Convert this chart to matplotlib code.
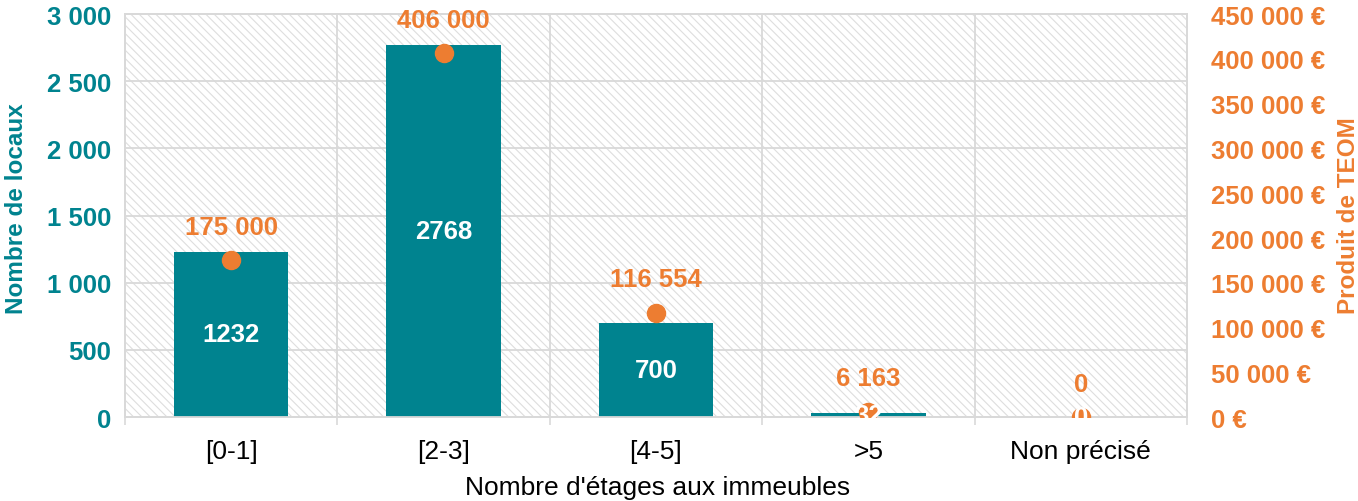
import matplotlib.pyplot as plt
from matplotlib.ticker import FuncFormatter, FixedLocator

plt.rcParams['font.family'] = ['Liberation Sans', 'DejaVu Sans']
plt.rcParams['hatch.linewidth'] = 0.8

# données
categories = ['[0-1]', '[2-3]', '[4-5]', '>5', 'Non précisé']
nb_locaux = [1232, 2768, 700, 32, 0]
produit_teom = [175000, 406000, 116554, 6163, 0]

teal = '#00838F'
orange = '#ED7D31'
grid_col = '#d9d9d9'
fs = 18.5


def sep(v):
    return f"{int(v):,}".replace(',', ' ')


fig = plt.figure(figsize=(13.58, 5.02), dpi=100)
ax = fig.add_axes([0.092, 0.167, 0.782, 0.803])
ax2 = ax.twinx()

# fond hachuré
ax.patch.set_facecolor('white')
ax.patch.set_edgecolor('#dedede')
ax.patch.set_hatch('\\\\\\\\')

x = list(range(len(categories)))
bars = ax.bar(x, nb_locaux, width=0.54, color=teal, zorder=3)

ax2.plot(x, produit_teom, 'o', color=orange, markersize=13, zorder=5)
for xi, v in zip(x, produit_teom):
    ax2.annotate(sep(v), (xi, v), xytext=(0, 24), textcoords='offset points',
                 ha='center', va='center', color=orange, fontsize=fs, fontweight='bold')

# étiquettes des barres au premier plan
for b, v in zip(bars, nb_locaux):
    ax2.text(b.get_x() + b.get_width() / 2, v / 2, str(v), transform=ax.transData,
             ha='center', va='center', color='white', fontsize=fs, fontweight='bold', zorder=6)

ax.set_xlim(-0.5, 4.5)
ax.set_ylim(0, 3000)
ax2.set_ylim(0, 450000)
ax.set_yticks(range(0, 3001, 500))
ax2.set_yticks(range(0, 450001, 50000))
ax.yaxis.set_major_formatter(FuncFormatter(lambda v, p: sep(v)))
ax2.yaxis.set_major_formatter(FuncFormatter(lambda v, p: sep(v) + ' €'))

ax.set_xticks(x)
ax.set_xticklabels(categories, fontsize=fs + 0.5)
ax.xaxis.set_minor_locator(FixedLocator([-0.5, 0.5, 1.5, 2.5, 3.5, 4.5]))
ax.tick_params(axis='x', which='major', length=0, pad=16)
ax.tick_params(axis='x', which='minor', length=6, width=1.2, color=grid_col)
ax.grid(axis='y', color=grid_col, lw=1.3, zorder=1)
ax.grid(axis='x', which='minor', color=grid_col, lw=1.3, zorder=1)
ax.set_axisbelow(True)

ax.tick_params(axis='y', length=0, labelcolor=teal, labelsize=fs, pad=10)
ax2.tick_params(axis='y', length=0, labelcolor=orange, labelsize=fs, pad=17)
for t in ax.get_yticklabels():
    t.set_fontweight('bold')
for t in ax2.get_yticklabels():
    t.set_fontweight('bold')

for a in (ax, ax2):
    for s in a.spines.values():
        s.set_color(grid_col)
        s.set_linewidth(1.3)

# titres d'axes placés à la main
fig.text(0.012, 0.585, 'Nombre de locaux', rotation=90, color=teal, fontsize=fs - 1,
         fontweight='bold', ha='center', va='center')
fig.text(0.993, 0.57, 'Produit de TEOM', rotation=90, color=orange, fontsize=fs - 1,
         fontweight='bold', ha='center', va='center')
fig.text(0.484, 0.027, "Nombre d'étages aux immeubles", fontsize=fs + 0.5,
         ha='center', va='center')

fig.savefig('out.png', dpi=100)
